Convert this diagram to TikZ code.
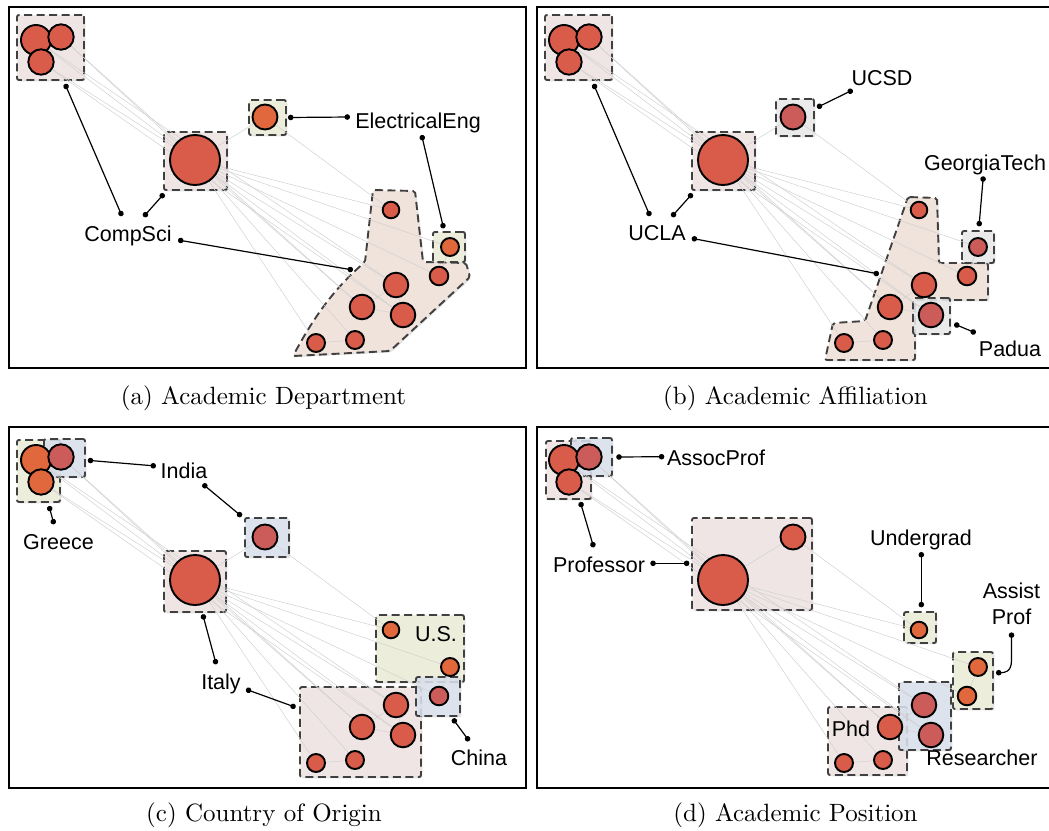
\documentclass[tikz,border=0pt]{standalone}
\usepackage{fontspec}
\newfontfamily\helv{Liberation Sans}
\newfontfamily\capfont{lmroman10-regular}[Extension=.otf]
\usepackage{tikz}
\usetikzlibrary{arrows.meta,shadows,fit,backgrounds}

\definecolor{rd}{HTML}{D95C4B}
\definecolor{og}{HTML}{E1673C}
\definecolor{pk}{HTML}{CC5C5A}
\definecolor{boxpink}{HTML}{F2E6E4}
\definecolor{blobpink}{HTML}{F3E3DB}
\definecolor{boxyel}{HTML}{EFEFDB}
\definecolor{boxgray}{HTML}{EBEBEC}
\definecolor{boxblue}{HTML}{DCE3EF}

\begin{document}
\begin{tikzpicture}[x=1pt,y=-1pt,
  vtx/.style={circle,draw,line width=1.9pt,inner sep=0pt},
  link/.style={line width=0.5pt,black!18},
  grp/.style={draw=black!75,line width=1.9pt,dash pattern=on 8pt off 4.5pt,rounded corners=2pt,fill opacity=.85,drop shadow={shadow xshift=1.3pt,shadow yshift=-1.3pt,opacity=.22}},
  gbox/.style={grp,inner sep=0pt},
  lead/.style={line width=1.2pt,{Circle[length=5.5pt]}-{Circle[length=5.5pt]}},
  lbl/.style={font=\helv\fontsize{21.5}{26.7}\selectfont,inner sep=0pt,anchor=base},
  subcap/.style={font=\capfont\fontsize{25}{30}\selectfont,inner sep=0pt,anchor=base}]
\useasboundingbox (0,0) rectangle (1049,830);

% groups
\begin{scope}[on background layer]
% (a)
\node[gbox,fill=boxpink,fit={(17,15) (84,80)}] (gatl) {};
\node[gbox,fill=boxpink,fit={(164,132) (227,190)}] (gabig) {};
\node[gbox,fill=boxyel,fit={(249,100) (286,135)}] (gaee) {};
\draw[grp,fill=blobpink] (373,190) -- (415,191) -- (423,262) -- (466,263) -- (470,277) -- (390,351) -- (293,356) .. controls (315,315) and (335,288) .. (365,262) -- cycle;
\node[gbox,fill=boxyel,fit={(433,232) (465,262)}] (gael) {};
% (b)
\node[gbox,fill=boxpink,fit={(545,15) (612,80)}] (gbtl) {};
\node[gbox,fill=boxpink,fit={(692,132) (755,190)}] (gbbig) {};
\node[gbox,fill=boxgray,fit={(776,99) (814,136)}] (gbucsd) {};
\draw[grp,fill=blobpink] (908,197) -- (937,198) -- (939,263) -- (988,263) -- (988,300) -- (915,300) -- (915,360) -- (825,360) -- (833,323) -- (865,321) -- cycle;
\node[gbox,fill=boxgray,fit={(962,231) (994,263)}] (gbgt) {};
\node[gbox,fill=boxgray,fit={(913,298) (950,334)}] (gbpad) {};
% (c)
\node[gbox,fill=boxyel,fit={(17,440) (60,502)}] (gcgr) {};
\node[gbox,fill=boxblue,fit={(44,439) (85,477)}] (gcin) {};
\node[gbox,fill=boxblue,fit={(245,518) (289,557)}] (gcin2) {};
\node[gbox,fill=boxpink,fit={(164,551) (226,612)}] (gcit) {};
\node[gbox,fill=boxpink,fit={(300,687) (421,777)}] (gcit2) {};
\node[gbox,fill=boxyel,fit={(376,615) (464,682)}] (gcus) {};
\node[gbox,fill=boxblue,fit={(416,677) (460,716)}] (gcch) {};
% (d)
\node[gbox,fill=boxpink,fit={(546,441) (591,499)}] (gdpr) {};
\node[gbox,fill=boxblue,fit={(571,438) (612,476)}] (gdas) {};
\node[gbox,fill=boxpink,fit={(692,518) (812,610)}] (gdpr2) {};
\node[gbox,fill=boxyel,fit={(904,612) (936,643)}] (gdug) {};
\node[gbox,fill=boxyel,fit={(953,652) (993,709)}] (gdap) {};
\node[gbox,fill=boxpink,fit={(828,707) (907,775)}] (gdphd) {};
\node[gbox,fill=boxblue,fit={(899,682) (951,750)}] (gdres) {};
\end{scope}

% (a) labels
\node[lbl] (compsci) at (128,241) {CompSci};
\node[lbl] (eleng) at (418,128) {ElectricalEng};
\coordinate (ablob) at (353,270);
\draw[lead] ([shift={(-6,-25)}]compsci.base) -- ([shift={(14.5,3)}]gatl.south);
\draw[lead] ([shift={(15.6,-24.3)}]compsci.base) -- ([shift={(1,2.7)}]gabig.south west);
\draw[lead] ([shift={(50,-1)}]compsci.base) -- (ablob);
\draw[lead] ([shift={(-68,-11)}]eleng.base) -- ([xshift=1pt]gaee.east);
\draw[lead] ([shift={(3.6,7)}]eleng.base) -- ([shift={(-5.4,-2.7)}]gael.north);

% (b) labels
\node[lbl] (ucla) at (657,240) {UCLA};
\node[lbl] (ucsd) at (882,85) {UCSD};
\node[lbl] (gtech) at (985,170) {GeorgiaTech};
\node[lbl] (padua) at (1010,356) {Padua};
\coordinate (bblob) at (879,274);
\draw[lead] ([shift={(-7,-24)}]ucla.base) -- ([shift={(15,3)}]gbtl.south);
\draw[lead] ([shift={(14.7,-23.3)}]ucla.base) -- ([shift={(1.3,2.7)}]gbbig.south west);
\draw[lead] ([shift={(34.7,-1.7)}]ucla.base) -- (bblob);
\draw[lead] ([shift={(-29.3,5)}]ucsd.base) -- ([shift={(2,-10)}]gbucsd.east);
\draw[lead] ([shift={(-1.7,6.3)}]gtech.base) -- ([shift={(1,-3.7)}]gbgt.north);
\draw[lead] ([shift={(3.3,8)}]gbpad.east) -- ([shift={(-34.3,-23)}]padua.base);

% (c) labels
\node[lbl] (greece) at (58.5,549) {Greece};
\node[lbl] (india) at (184,478) {India};
\node[lbl] (italy) at (221,689) {Italy};
\node[lbl] (usa) at (436,641) {U.S.};
\node[lbl] (china) at (479,765) {China};
\draw[lead] ([shift={(-4.5,-24.7)}]greece.base) -- ([shift={(10.5,3)}]gcgr.south);
\draw[lead] ([shift={(-28,-12)}]india.base) -- ([shift={(1.8,2.3)}]gcin.east);
\draw[lead] ([shift={(18.7,6)}]india.base) -- ([shift={(-2.4,-0.7)}]gcin2.north west);
\draw[lead] ([shift={(-4.8,-24.7)}]italy.base) -- ([shift={(7.7,1.3)}]gcit.south);
\draw[lead] ([shift={(25,0.3)}]italy.base) -- ([shift={(-3.4,-24.7)}]gcit2.west);
\draw[lead] ([shift={(-9.8,-24)}]china.base) -- ([shift={(14.7,1.7)}]gcch.south);

% (d) labels
\node[lbl] (assoc) at (716,465) {AssocProf};
\node[lbl] (prof) at (599,572) {Professor};
\node[lbl] (ugrad) at (921,545) {Undergrad};
\node[lbl,anchor=north,align=center] (assist) at (1011.5,582.5) {Assist\\Prof};
\node[lbl] (resrch) at (982,765) {Researcher};
\node[lbl] (phd) at (851,736) {Phd};
\draw[lead] ([shift={(-51.7,-8.3)}]assoc.base) -- ([shift={(3.3,0)}]gdas.east);
\draw[lead] ([shift={(51.3,-8.7)}]prof.base) -- ([shift={(-1.7,-0.7)}]gdpr2.west);
\draw[lead] ([shift={(-5.3,-24.7)}]prof.base) -- ([shift={(11.8,2)}]gdpr.south);
\draw[lead] ([shift={(0.3,7)}]ugrad.base) -- ([shift={(1.3,-3.7)}]gdug.north);
\draw[lead] ([shift={(0,7)}]assist.south) -- ++(0,28) .. controls +(0,12) and +(8,0) .. ([shift={(2,-7.8)}]gdap.east);

% captions
\node[subcap] (capa) at (263.5,404) {(a) Academic Department};
\node[subcap] (capb) at (795.5,404) {(b) Academic Affiliation};
\node[subcap] (capc) at (264,821) {(c) Country of Origin};
\node[subcap] (capd) at (795.5,821) {(d) Academic Position};

% the network, once per panel
\foreach \p/\dx/\dy/\ka/\kb/\kc/\kd/\ke/\kf/\kg/\kh in {a/0/0/rd/rd/og/rd/og/rd/rd/rd, b/528/0/rd/rd/pk/rd/pk/rd/rd/pk, c/0/420/og/pk/pk/og/og/pk/rd/rd, d/528/420/rd/pk/rd/og/og/og/pk/pk}{
\begin{scope}[shift={(\dx,\dy)}]
\draw[line width=1.2pt] (9,7) rectangle (526,368);
\foreach \n/\x/\y/\r/\c in {c1/36/40/15/\ka, c2/61/37/12.7/\kb, c3/41/62/12.7/\ka, big/195/160/25/rd, ee/265/117/12.5/\kc, n1/391/210/8.3/\kd, el/450/247/9/\ke, r1/439/276/9.3/\kf, m1/396/285/12.3/\kg, m2/362/307/12.3/rd, m3/403/315/12.3/\kh, s1/316/343/9/rd, s2/355/340/9/rd}
  \node[vtx,fill=\c,minimum size=2*\r] (\p\n) at (\x,\y) {};
\begin{scope}[on background layer]
\foreach \u/\v in {c1/big, c2/big, c3/big, c1/m1, c2/m2, c3/m3, big/ee, big/n1, big/el, big/r1, big/m1, big/m2, big/m3, big/s1, big/s2, ee/n1, s1/s2, m1/m2, m2/m3, m1/m3, r1/el}
  \draw[link] (\p\u) -- (\p\v);
\end{scope}
\end{scope}}
\end{tikzpicture}
\end{document}
